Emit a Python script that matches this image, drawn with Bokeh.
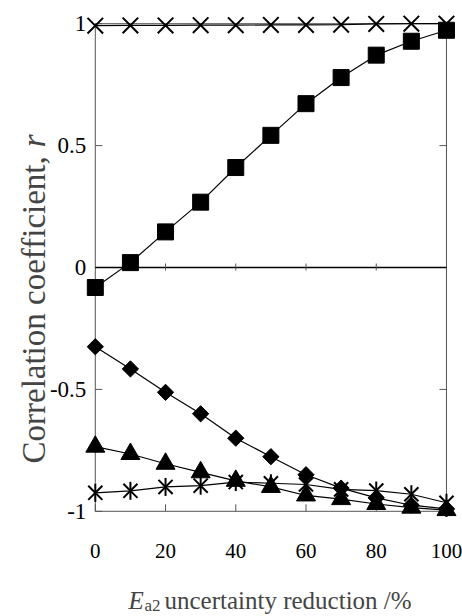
import math
from bokeh.plotting import figure
from bokeh.models import Range1d, Label
from bokeh.core.properties import value
from bokeh.embed import file_html
from bokeh.resources import INLINE

# ---- data ----
reduction = [0, 10, 20, 30, 40, 50, 60, 70, 80, 90, 100]
r_cross = [0.992, 0.993, 0.993, 0.994, 0.994, 0.995, 0.995, 0.996, 0.999, 1.0, 1.0]
r_square = [-0.082, 0.02, 0.146, 0.268, 0.41, 0.542, 0.672, 0.779, 0.871, 0.928, 0.973]
r_diamond = [-0.325, -0.416, -0.512, -0.60, -0.70, -0.776, -0.85, -0.905, -0.945, -0.975, -0.99]
r_triangle = [-0.735, -0.765, -0.805, -0.84, -0.875, -0.90, -0.935, -0.95, -0.97, -0.985, -0.995]
r_asterisk = [-0.924, -0.916, -0.90, -0.895, -0.88, -0.885, -0.89, -0.91, -0.915, -0.93, -0.965]

x_ticks = [0, 20, 40, 60, 80, 100]
x_tick_labels = ["0", "20", "40", "60", "80", "100"]
y_ticks = [-1, -0.5, 0, 0.5, 1]
y_tick_labels = ["-1", "-0.5", "0", "0.5", "1"]
inner_x_ticks = [20, 40, 60, 80]
side_y_ticks = [-0.5, 0.5]

X_MIN, X_MAX = 0, 100
Y_MIN, Y_MAX = -1, 1

FONT = "Liberation Serif"
FRAME = "#555555"
W, H = 462, 616

# pixel placement of the data box (x=0 -> 94.8 px, x=100 -> 446 px, y=1 -> 23 px, y=-1 -> 511 px)
PX_X0, PX_PER_X = 94.8, 3.5117
PX_Y0, PX_PER_Y = 267.0, 243.81


def dx(px):
    return (px - PX_X0) / PX_PER_X


def dy(py):
    return (PX_Y0 - py) / PX_PER_Y


# the frame fills the whole canvas so nothing gets clipped
p = figure(width=W, height=H,
           x_range=Range1d(dx(0), dx(W)), y_range=Range1d(dy(H), dy(0)),
           output_backend="svg", toolbar_location=None, title=None,
           x_axis_location=None, y_axis_location=None,
           min_border=0, min_border_left=0, min_border_right=0,
           min_border_top=0, min_border_bottom=0)
p.outline_line_color = None
p.xgrid.visible = False
p.ygrid.visible = False
p.background_fill_color = "white"
p.border_fill_color = "white"

# ---- box, zero line and ticks ----
TX = 7 / PX_PER_X          # 7 px tick length along x
TY = 7 / PX_PER_Y          # 7 px tick length along y

# box edges
p.segment(x0=[X_MIN, X_MAX, X_MIN, X_MIN], y0=[Y_MIN, Y_MIN, Y_MIN, Y_MAX],
          x1=[X_MIN, X_MAX, X_MAX, X_MAX], y1=[Y_MAX, Y_MAX, Y_MIN, Y_MAX],
          line_color=FRAME, line_width=1)
# left ticks (pointing in)
p.segment(x0=[X_MIN] * len(y_ticks), y0=y_ticks, x1=[X_MIN + TX] * len(y_ticks), y1=y_ticks,
          line_color=FRAME, line_width=1)
# right ticks (pointing in)
p.segment(x0=[X_MAX - TX] * len(side_y_ticks), y0=side_y_ticks,
          x1=[X_MAX] * len(side_y_ticks), y1=side_y_ticks, line_color=FRAME, line_width=1)
# bottom ticks (pointing in)
p.segment(x0=x_ticks, y0=[Y_MIN] * len(x_ticks), x1=x_ticks, y1=[Y_MIN + TY] * len(x_ticks),
          line_color=FRAME, line_width=1)
# zero line with crossing ticks
p.segment(x0=[X_MIN], y0=[0], x1=[X_MAX], y1=[0], line_color="black", line_width=1.3)
p.segment(x0=inner_x_ticks, y0=[-3 / PX_PER_Y] * len(inner_x_ticks),
          x1=inner_x_ticks, y1=[4 / PX_PER_Y] * len(inner_x_ticks),
          line_color=FRAME, line_width=1)

# tick labels
p.text(x=[X_MIN] * len(y_ticks), y=y_ticks, text=y_tick_labels, x_offset=-9,
       text_align="right", text_baseline="middle", text_font=value(FONT),
       text_font_size="23px", text_color="black")
p.text(x=x_ticks, y=[Y_MIN] * len(x_ticks), text=x_tick_labels, y_offset=40,
       text_align="center", text_baseline="middle", text_font=value(FONT),
       text_font_size="21px", text_color="black")

LW = 1.2
for ys in [r_cross, r_square, r_diamond, r_triangle, r_asterisk]:
    p.line(reduction, ys, line_color="black", line_width=LW, level="overlay")

p.scatter(reduction, r_cross, marker="x", size=22, line_color="black", line_width=2, level="overlay")
p.scatter(reduction, r_square, marker="square", size=16, fill_color="black", line_color="black", level="overlay")
p.scatter(reduction, r_diamond, marker="square", angle=math.pi / 4, size=11.5,
          fill_color="black", line_color="black", level="overlay")
p.scatter(reduction, r_triangle, marker="triangle", size=19, fill_color="black", line_color="black", level="overlay")
p.scatter(reduction, r_asterisk, marker="x", size=20, line_color="black", line_width=2, level="overlay")
p.scatter(reduction, r_asterisk, marker="dash", angle=math.pi / 2, size=18, line_color="black",
          line_width=2, level="overlay")


def title_label(px, py, text, size, style="normal", angle=0.0):
    p.add_layout(Label(x=dx(px), y=dy(py), text=text,
                       text_font=FONT, text_font_style=style, text_font_size=f"{size}px",
                       text_align="left", text_baseline="middle", angle=angle))


title_label(128, 600, "E", 25, "italic")
title_label(144, 605, "a2", 17)
title_label(164, 600, "uncertainty reduction /%", 25)

YL_SIZE = 33
y_start = 463
main_len = 9.581 * YL_SIZE
title_label(33, y_start, "Correlation coefficient,", YL_SIZE, angle=math.pi / 2)
title_label(33, y_start - main_len, "r", YL_SIZE, "italic", angle=math.pi / 2)

open("out.html", "w").write(file_html(p, INLINE))
